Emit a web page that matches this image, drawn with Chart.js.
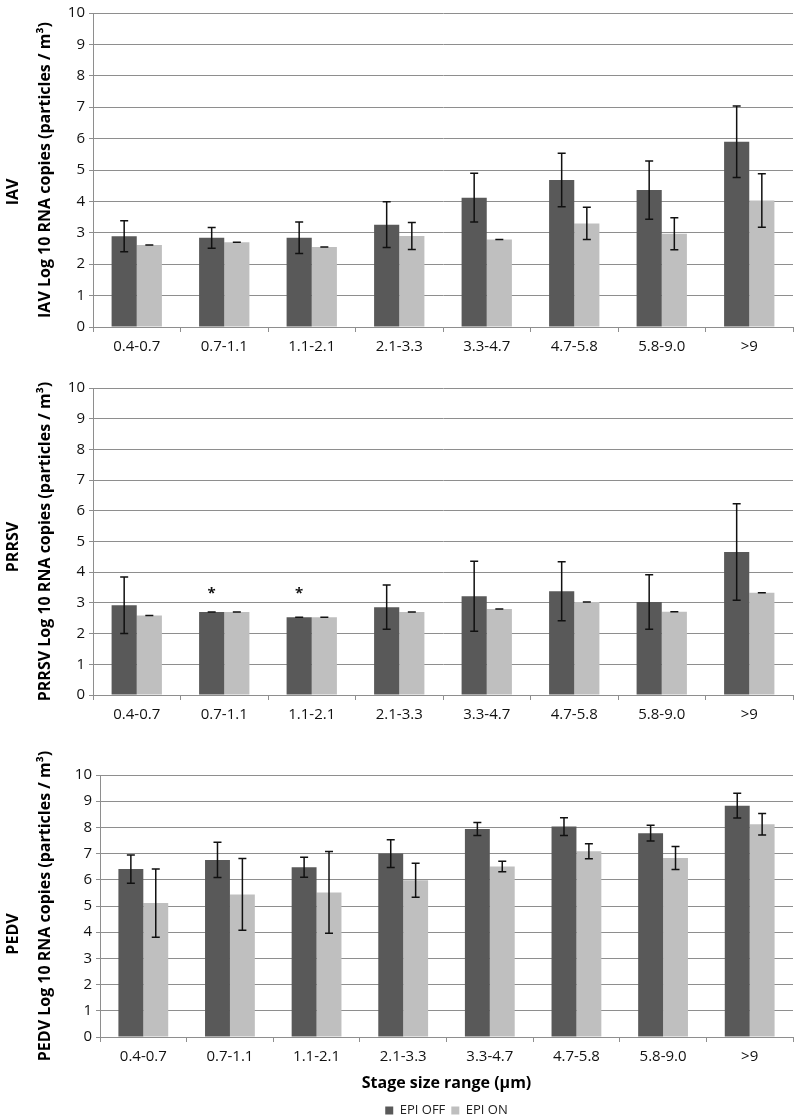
<!DOCTYPE html>
<html>
<head>
<meta charset="utf-8">
<script src="https://cdn.jsdelivr.net/npm/chart.js@4.4.1/dist/chart.umd.min.js"></script>
<style>
  body { margin: 0; background: #fff; overflow: hidden; }
  #wrap { position: relative; width: 795px; height: 1115px; overflow: hidden; }
  .panel { position: absolute; left: 0; }
</style>
</head>
<body>
<div id="wrap">
  <div class="panel" style="top:0px"><canvas id="iav" width="795" height="358"></canvas></div>
  <div class="panel" style="top:360px"><canvas id="prrsv" width="795" height="368"></canvas></div>
  <div class="panel" style="top:730px"><canvas id="pedv" width="795" height="397"></canvas></div>
</div>
<script>
const stages = ['0.4-0.7', '0.7-1.1', '1.1-2.1', '2.1-3.3', '3.3-4.7', '4.7-5.8', '5.8-9.0', '>9'];
const seriesNames = ['EPI OFF', 'EPI ON'];
const yTicks = [0, 1, 2, 3, 4, 5, 6, 7, 8, 9, 10];

const iavOff = [2.89, 2.84, 2.84, 3.26, 4.12, 4.68, 4.36, 5.90];
const iavOffErr = [0.49, 0.33, 0.50, 0.73, 0.78, 0.85, 0.93, 1.14];
const iavOn = [2.61, 2.70, 2.55, 2.90, 2.79, 3.30, 2.97, 4.03];
const iavOnErr = [0, 0, 0, 0.43, 0, 0.51, 0.51, 0.85];

const prrsvOff = [2.92, 2.70, 2.53, 2.86, 3.22, 3.38, 3.03, 4.66];
const prrsvOffErr = [0.92, 0, 0, 0.72, 1.14, 0.96, 0.89, 1.57];
const prrsvOn = [2.59, 2.70, 2.53, 2.70, 2.80, 3.03, 2.71, 3.33];
const prrsvOnErr = [0, 0, 0, 0, 0, 0, 0, 0];
// asterisks above EPI OFF bars (y value of the mark)
const prrsvStars = [null, 3.4, 3.4, null, null, null, null, null];

const pedvOff = [6.41, 6.76, 6.48, 7.00, 7.94, 8.03, 7.78, 8.83];
const pedvOffErr = [0.54, 0.67, 0.38, 0.53, 0.25, 0.34, 0.30, 0.47];
const pedvOn = [5.11, 5.44, 5.52, 5.98, 6.51, 7.09, 6.83, 8.12];
const pedvOnErr = [1.30, 1.37, 1.56, 0.65, 0.20, 0.29, 0.44, 0.41];

const FONT = "'Open Sans', 'DejaVu Sans', sans-serif";
const GRID = '#8e8e8e';

const errorBars = {
    id: 'errorBars',
    afterDatasetsDraw(chart) {
        const ctx = chart.ctx;
        const y = chart.scales.y;
        ctx.save();
        ctx.strokeStyle = '#111';
        ctx.lineWidth = 1.5;
        chart.data.datasets.forEach(function (ds, i) {
            const meta = chart.getDatasetMeta(i);
            meta.data.forEach(function (bar, j) {
                const v = ds.data[j], e = ds.errors[j];
                const top = y.getPixelForValue(v + e);
                const bot = y.getPixelForValue(v - e);
                ctx.beginPath();
                ctx.moveTo(bar.x, top); ctx.lineTo(bar.x, bot);
                ctx.moveTo(bar.x - 4, top); ctx.lineTo(bar.x + 4, top);
                ctx.moveTo(bar.x - 4, bot); ctx.lineTo(bar.x + 4, bot);
                ctx.stroke();
            });
        });
        ctx.restore();
    }
};

const sideLabel = {
    id: 'sideLabel',
    afterDraw(chart, args, opts) {
        if (!opts.text) return;
        const ctx = chart.ctx;
        ctx.save();
        ctx.translate(opts.x, opts.y);
        ctx.rotate(-Math.PI / 2);
        ctx.font = 'bold 16px ' + FONT;
        ctx.fillStyle = '#000';
        ctx.textAlign = 'center';
        ctx.textBaseline = 'middle';
        ctx.fillText(opts.text, 0, 0);
        ctx.restore();
    }
};

const stars = {
    id: 'stars',
    afterDatasetsDraw(chart, args, opts) {
        if (!opts.marks) return;
        const ctx = chart.ctx;
        const meta = chart.getDatasetMeta(0);
        ctx.save();
        ctx.font = 'bold 15px ' + FONT;
        ctx.fillStyle = '#111';
        ctx.textAlign = 'center';
        ctx.textBaseline = 'middle';
        opts.marks.forEach(function (m, j) {
            if (m === null) return;
            ctx.fillText('*', meta.data[j].x, chart.scales.y.getPixelForValue(m) + 3);
        });
        ctx.restore();
    }
};

function make_chart(id, opt)
{
    const config = {
        type: 'bar',
        data: {
            labels: stages,
            datasets: [
                { label: seriesNames[0], data: opt.off, errors: opt.offErr, backgroundColor: '#595959' },
                { label: seriesNames[1], data: opt.on, errors: opt.onErr, backgroundColor: '#bfbfbf' }
            ]
        },
        options: {
            responsive: false,
            animation: false,
            categoryPercentage: 0.575,
            barPercentage: 1.0,
            layout: { padding: { top: opt.padTop, right: 2, left: 0, bottom: 0 } },
            scales: {
                x: {
                    grid: { offset: true, drawOnChartArea: false, tickLength: 5, color: GRID },
                    border: { color: GRID },
                    ticks: { font: { family: FONT, size: 15 }, color: '#111', padding: 6 },
                    title: {
                        display: !!opt.xTitle,
                        text: opt.xTitle || '',
                        font: { family: FONT, size: 16, weight: 'bold' },
                        color: '#000',
                        padding: { top: 0, bottom: 5 }
                    },
                    afterFit: function (s) { s.height = opt.xHeight; }
                },
                y: {
                    min: 0,
                    max: 10,
                    afterBuildTicks: function (s) { s.ticks = yTicks.map(v => ({ value: v })); },
                    grid: { color: GRID, tickLength: 4 },
                    border: { color: GRID },
                    ticks: { font: { family: FONT, size: 15 }, color: '#111', padding: 4 },
                    title: {
                        display: true,
                        text: opt.yTitle,
                        font: { family: FONT, size: 16, weight: 'bold' },
                        color: '#000',
                        padding: { top: 36 }
                    },
                    afterFit: function (s) { s.width = opt.yWidth; }
                }
            },
            plugins: {
                legend: {
                    display: !!opt.legend,
                    position: 'bottom',
                    fullSize: false,
                    labels: {
                        boxWidth: 8, boxHeight: 8, padding: 6,
                        font: { family: FONT, size: 13 }, color: '#222'
                    }
                },
                tooltip: { enabled: false },
                sideLabel: { text: opt.side, x: 13, y: opt.sideY },
                stars: { marks: opt.stars }
            }
        },
        plugins: [errorBars, sideLabel, stars]
    };
    return new Chart(document.getElementById(id), config);
}

make_chart('iav', {
    off: iavOff, offErr: iavOffErr, on: iavOn, onErr: iavOnErr,
    yTitle: 'IAV Log 10 RNA copies (particles / m³)', side: 'IAV', sideY: 192,
    padTop: 11, xHeight: 31, yWidth: 93
});
make_chart('prrsv', {
    off: prrsvOff, offErr: prrsvOffErr, on: prrsvOn, onErr: prrsvOnErr, stars: prrsvStars,
    yTitle: 'PRRSV Log 10 RNA copies (particles / m³)', side: 'PRRSV', sideY: 187,
    padTop: 28, xHeight: 33, yWidth: 93
});
make_chart('pedv', {
    off: pedvOff, offErr: pedvOffErr, on: pedvOn, onErr: pedvOnErr,
    yTitle: 'PEDV Log 10 RNA copies (particles / m³)', side: 'PEDV', sideY: 204,
    xTitle: 'Stage size range (µm)', legend: true,
    padTop: 45, xHeight: 61, yWidth: 100
});
</script>
</body>
</html>
